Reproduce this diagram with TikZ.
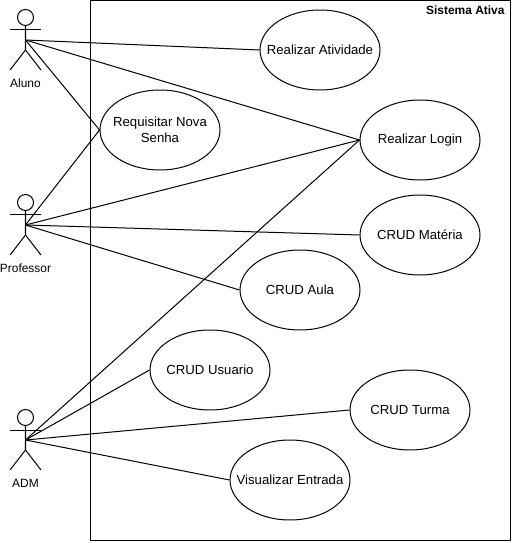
\documentclass[tikz,border=0pt]{standalone}
\usepackage{fontspec}
\setmainfont{Liberation Sans}
\usetikzlibrary{shapes.geometric}
\tikzset{
    usecase/.style={draw, ellipse, minimum width=2.4cm, minimum height=1.6cm, inner xsep=-0.3cm, inner ysep=0pt, align=center, font=\fontsize{7.5}{9.4}\selectfont},
    actorhead/.style={draw, circle, minimum size=0.32cm, inner sep=0pt},
    actorlabel/.style={font=\fontsize{6.8}{8.6}\selectfont},
    link/.style={line width=0.57pt},
}
\newcommand{\actorfig}[3]{%
    \node[actorhead] (#1head) at (25.5, #2-22.5) {};
    \coordinate (#1) at (25.5, #2);
    \draw[link] (#1head) -- (25.5, #2+10) -- (10, #2+30);
    \draw[link] (25.5, #2+10) -- (41, #2+30);
    \draw[link] (10, #2-10) -- (41, #2-10);
    \node[actorlabel] (#1label) at (25.5, #2+43.5) {#3};
}
\begin{document}
\begin{tikzpicture}[x=0.02cm, y=-0.02cm, line width=0.57pt]
    \useasboundingbox (0, 0) rectangle (513, 543);

    \node[draw, minimum width=8.41cm, minimum height=10.8cm, inner sep=0pt, anchor=north west] (sistema) at (90, 0.5) {};
    \node[anchor=north east, inner sep=0pt, font=\fontsize{6.8}{8.6}\selectfont\bfseries] (titulo) at (505, 5) {Sistema Ativa};

    \actorfig{aluno}{40}{Aluno}
    \actorfig{professor}{225}{Professor}
    \actorfig{adm}{440}{ADM}

    \node[usecase] (atividade) at (320, 50) {Realizar Atividade};
    \node[usecase] (senha) at (160, 130) {Requisitar Nova\\Senha};
    \node[usecase] (login) at (420, 140) {Realizar Login};
    \node[usecase] (materia) at (420, 235) {CRUD Matéria};
    \node[usecase] (aula) at (300, 290) {CRUD Aula};
    \node[usecase] (usuario) at (210, 370) {CRUD Usuario};
    \node[usecase] (turma) at (410, 410) {CRUD Turma};
    \node[usecase] (entrada) at (290, 480) {Visualizar Entrada};

    \draw[link] (aluno) to (atividade.west);
    \draw[link] (aluno) to (login.west);
    \draw[link] (aluno) to (senha.west);

    \draw[link] (professor) to (senha.west);
    \draw[link] (professor) to (login.west);
    \draw[link] (professor) to (materia.west);
    \draw[link] (professor) to (aula.west);

    \draw[link] (adm) to (login.west);
    \draw[link] (adm) to (usuario.west);
    \draw[link] (adm) to (turma.west);
    \draw[link] (adm) to (entrada.west);
\end{tikzpicture}
\end{document}
